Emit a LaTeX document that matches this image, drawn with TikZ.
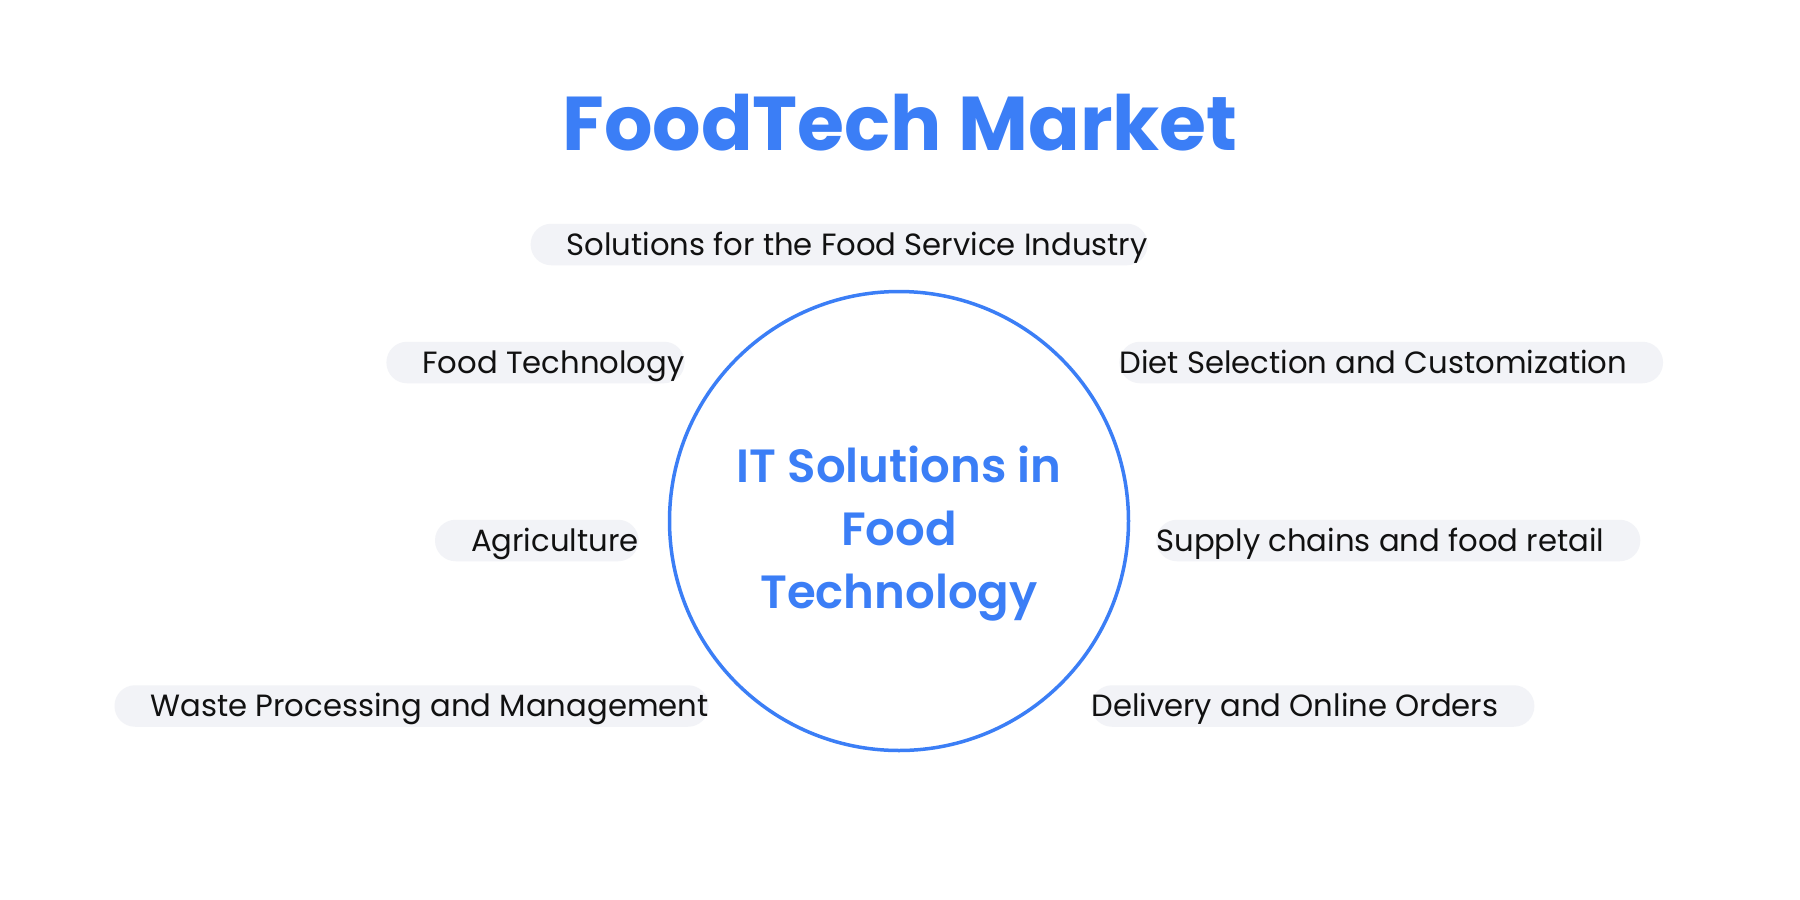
\documentclass[tikz,border=0pt]{standalone}
\usepackage{fontspec}
\setmainfont{Poppins}
\newfontfamily\semibold{Poppins SemiBold}
\definecolor{brand}{HTML}{3B7EF6}
\definecolor{pillbg}{HTML}{F2F3F7}
\definecolor{ink}{HTML}{111111}
\begin{document}
\begin{tikzpicture}[x=0.5pt,y=-0.5pt,
 pill/.style={fill=pillbg, rounded corners=10.3pt, inner xsep=0pt, inner ysep=0pt,
   minimum height=20.75pt, text height=13.8pt, text depth=3pt,
   font=\fontsize{15.35}{18}\selectfont, text=ink},
 leftpill/.style={pill, anchor=east, execute at begin node={\hspace*{18pt}}},
 rightpill/.style={pill, anchor=west, execute at end node={\hspace*{18pt}}},
 hub/.style={circle, draw=brand, line width=1.75pt, minimum size=229.5pt, inner sep=0pt},
 hubtext/.style={align=center, text=brand, font=\semibold\fontsize{23.3}{31.5}\selectfont},
 titletext/.style={text=brand, font=\bfseries\fontsize{38.1}{46}\selectfont, anchor=base}
]
\fill[white] (0,0) rectangle (1800,900);
\useasboundingbox (0,0) rectangle (1800,900);
\node[titletext] (title) at (900,150) {FoodTech Market};
\node[hub] (hub) at (899,521) {};
\node[hubtext] (hubtext) at (899,534) {IT Solutions in\\Food\\Technology};
\node[leftpill] (p1) at (1148,244.5) {Solutions for the Food Service Industry};
\node[leftpill] (p2) at (685,362.5) {Food Technology};
\node[rightpill] (p3) at (1119,362.5) {Diet Selection and Customization};
\node[leftpill] (p4) at (639,540.5) {Agriculture};
\node[rightpill] (p5) at (1156,540.5) {Supply chains and food retail};
\node[leftpill] (p6) at (709,706) {Waste Processing and Management};
\node[rightpill] (p7) at (1091,706) {Delivery and Online Orders};
\end{tikzpicture}
\end{document}
